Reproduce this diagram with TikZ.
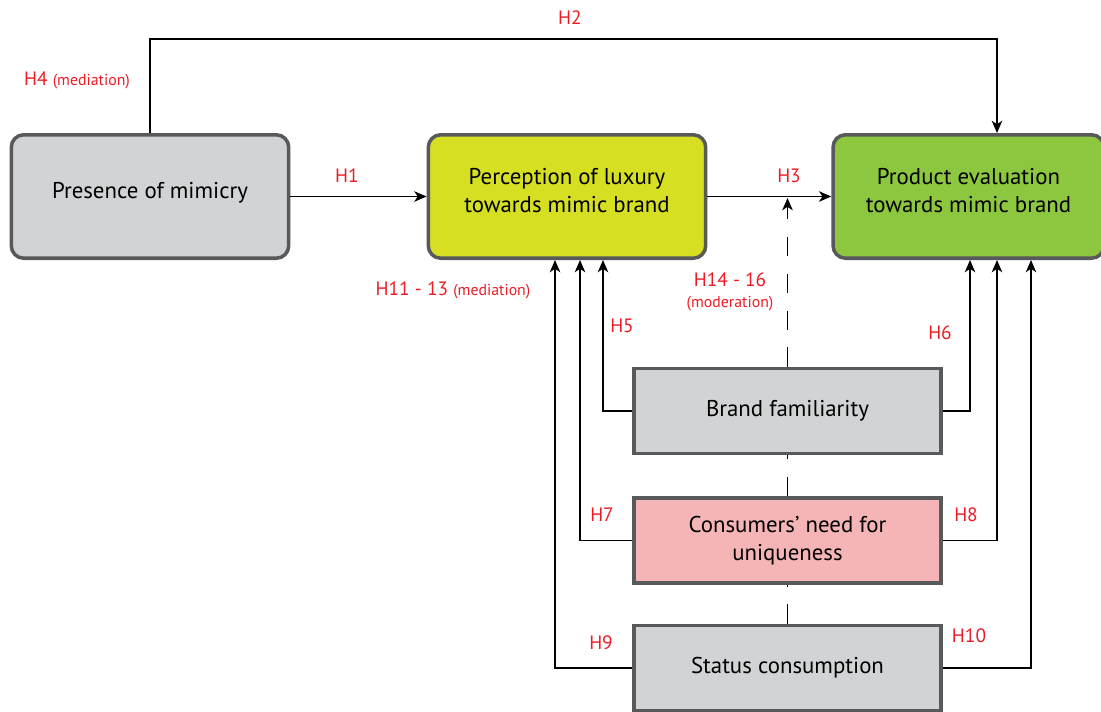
\documentclass[tikz,border=0pt]{standalone}
\usepackage{fontspec}
\setmainfont{PT Sans}
\usetikzlibrary{arrows.meta,calc}
\definecolor{boxgray}{HTML}{D1D3D4}
\definecolor{boxline}{HTML}{58595B}
\definecolor{luxyellow}{HTML}{D7DF23}
\definecolor{evalgreen}{HTML}{8DC63F}
\definecolor{nfupink}{HTML}{F5B5B7}
\definecolor{hypred}{HTML}{ED1C24}
\newcommand{\parenfont}{\fontsize{9}{11}\selectfont}

\begin{document}
\begin{tikzpicture}[x=0.02cm, y=-0.02cm, line width=0.75pt,
  >={Stealth[length=7pt,width=6pt,inset=2pt]},
  box/.style={draw=boxline, line width=2pt, align=center, inner sep=0pt,
    font=\fontsize{13}{16}\selectfont},
  rbox/.style={box, rounded corners=0.25cm, minimum width=5.55cm, minimum height=2.47cm,
    text depth=0.25cm},
  sbox/.style={box, minimum width=6.15cm, minimum height=1.7cm},
  hyp/.style={text=hypred, inner sep=0pt, font=\fontsize{11}{12}\selectfont},
  mod/.style={dash pattern=on 11pt off 10pt}]
\useasboundingbox (0,0) rectangle (1101,711);

% constructs
\node[rbox, fill=boxgray] (mim) at (150,196.5) {Presence of mimicry};
\node[rbox, fill=luxyellow] (lux) at (567,196.5) {Perception of luxury\\towards mimic brand};
\node[rbox, fill=evalgreen, minimum width=5.42cm] (eval) at (968.5,196.5) {Product evaluation\\towards mimic brand};
\node[sbox, fill=boxgray] (fam) at (787.5,411) {Brand familiarity};
\node[sbox, fill=nfupink] (nfu) at (787.5,540.5) {Consumers’ need for\\uniqueness};
\node[sbox, fill=boxgray] (stat) at (787.5,668) {Status consumption};

\coordinate (h2top) at (570,39);
\coordinate (modtip) at (787.5,198);

% direct paths
\path[->]
(mim) edge (lux)
(lux) edge (eval);
\draw[->] (mim.north) |- (h2top) -| ([xshift=0.57cm]eval.north);

% into perception of luxury
\draw[->] (fam.west) -| ([xshift=0.72cm]lux.south);
\draw[->] (nfu.west) -| ([xshift=0.26cm]lux.south);
\draw[->] (stat.west) -| ([xshift=-0.24cm]lux.south);

% into product evaluation
\draw[->] (fam.east) -| ([xshift=0.03cm]eval.south);
\draw[->] (nfu.east) -| ([xshift=0.57cm]eval.south);
\draw[->] (stat.east) -| ([xshift=1.25cm]eval.south);

% moderation
\draw[mod, ->] (fam.north) -- (modtip);
\draw[mod] (nfu.north) -- (fam.south);
\draw[mod] (stat.north) -- (nfu.south);

% hypotheses
\node[hyp] (h1) at (347,176) {H1};
\node[hyp] (h2) at (570,18) {H2};
\node[hyp] (h3) at (789,176) {H3};
\node[hyp] (h4) at (77,80) {H4 {\parenfont(mediation)}};
\node[hyp] (h5) at (622,326) {H5};
\node[hyp] (h6) at (940,333) {H6};
\node[hyp] (h7) at (602,515) {H7};
\node[hyp] (h8) at (966,515) {H8};
\node[hyp] (h9) at (601,643) {H9};
\node[hyp] (h10) at (969,636) {H10};
\node[hyp] (h1113) at (453,290) {H11 - 13 {\parenfont(mediation)}};
\node[hyp, align=center] (h1416) at (730,292) {H14 - 16\\{\parenfont(moderation)}};
\end{tikzpicture}
\end{document}
